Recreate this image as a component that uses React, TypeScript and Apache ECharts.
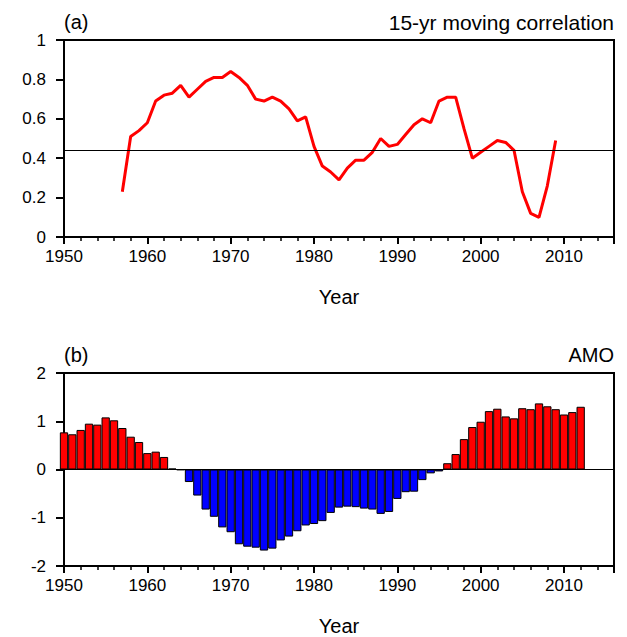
import { useEffect, useRef } from "react";
import * as echarts from "echarts";

const corrStartYear = 1957;
const corrValues = [
  0.23, 0.51, 0.54, 0.58, 0.69, 0.72, 0.73, 0.77, 0.71, 0.75,
  0.79, 0.81, 0.81, 0.84, 0.81, 0.77, 0.70, 0.69, 0.71, 0.69,
  0.65, 0.59, 0.61, 0.46, 0.36, 0.33, 0.29, 0.35, 0.39, 0.39,
  0.43, 0.50, 0.46, 0.47, 0.52, 0.57, 0.60, 0.58, 0.69, 0.71,
  0.71, 0.55, 0.40, 0.43, 0.46, 0.49, 0.48, 0.44, 0.23, 0.12,
  0.10, 0.26, 0.49,
];
const corrThreshold = 0.44;

const amoStartYear = 1950;
const amoValues = [
  0.77, 0.73, 0.82, 0.95, 0.93, 1.08, 1.02, 0.86, 0.68, 0.57,
  0.34, 0.37, 0.26, 0.02, -0.01, -0.26, -0.54, -0.83, -0.98, -1.20,
  -1.30, -1.55, -1.60, -1.62, -1.68, -1.64, -1.47, -1.39, -1.28, -1.16,
  -1.13, -1.07, -0.90, -0.79, -0.77, -0.78, -0.81, -0.83, -0.92, -0.88,
  -0.61, -0.47, -0.46, -0.22, -0.08, -0.04, 0.13, 0.32, 0.63, 0.88,
  0.99, 1.21, 1.26, 1.10, 1.06, 1.27, 1.25, 1.37, 1.31, 1.25,
  1.14, 1.19, 1.30,
];

const FONT = "Liberation Sans";
const GRID_H = 197;

export default function App() {
  const ref = useRef<HTMLDivElement>(null);

  useEffect(() => {
    if (!ref.current) return;
    const chart = echarts.init(ref.current, null, { renderer: "svg" });

    const corrData = corrValues.map((v, i) => [corrStartYear + i, v]);
    const amoData = amoValues.map((v, i) => ({
      value: [amoStartYear + i, v],
      itemStyle: { color: v >= 0 ? "#ff0000" : "#0000ff" },
    }));

    const grids = [
      { left: 64, top: 40, width: 550, height: GRID_H },
      { left: 64, top: 373, width: 550, height: GRID_H },
    ];

    const xAxisCfg = (gridIndex: number) => ({
      type: "value",
      gridIndex,
      position: "bottom",
      min: 1950,
      max: 2016,
      interval: 10,
      name: "Year",
      nameLocation: "middle",
      nameGap: 50,
      nameTextStyle: { fontFamily: FONT, fontSize: 20, color: "#000" },
      axisLine: { show: true, onZero: false, lineStyle: { color: "#000", width: 2 } },
      axisTick: {
        show: true,
        inside: false,
        length: 7,
        lineStyle: { color: "#000", width: 2 },
      },
      minorTick: {
        show: true,
        splitNumber: 5,
        length: 4,
        lineStyle: { color: "#000", width: 1.5 },
      },
      axisLabel: {
        show: true,
        margin: 11,
        fontFamily: FONT,
        fontSize: 17,
        color: "#000",
        showMaxLabel: false,
        formatter: (v: number) => (v % 10 === 0 ? String(v) : ""),
      },
      splitLine: { show: false },
      minorSplitLine: { show: false },
    });

    const yAxisCfg = (gridIndex: number, min: number, max: number, interval: number) => ({
      type: "value",
      gridIndex,
      min,
      max,
      interval,
      axisLine: { show: true, onZero: false, lineStyle: { color: "#000", width: 2 } },
      axisTick: { show: true, inside: false, length: 8, lineStyle: { color: "#000", width: 2 } },
      axisLabel: {
        margin: 18,
        fontFamily: FONT,
        fontSize: 17,
        color: "#000",
        formatter: (v: number) => String(v),
      },
      splitLine: { show: false },
    });

    const titleStyle = { fontFamily: FONT, fontSize: 20, fontWeight: "normal", color: "#000" };

    chart.setOption({
      animation: false,
      backgroundColor: "#fff",
      title: [
        { text: "(a)", left: 64, top: 12, textStyle: titleStyle, padding: 0 },
        { text: "15-yr moving correlation", right: 13, top: 12, textStyle: { ...titleStyle, fontSize: 21 }, padding: 0 },
        { text: "(b)", left: 64, top: 345, textStyle: titleStyle, padding: 0 },
        { text: "AMO", right: 13, top: 345, textStyle: titleStyle, padding: 0 },
      ],
      grid: grids.map((g) => ({ ...g, show: true, borderColor: "#000", borderWidth: 2, backgroundColor: "transparent" })),
      xAxis: [xAxisCfg(0), xAxisCfg(1)],
      yAxis: [yAxisCfg(0, 0, 1, 0.2), yAxisCfg(1, -2, 2, 1)],
      series: [
        {
          type: "line",
          xAxisIndex: 0,
          yAxisIndex: 0,
          data: corrData,
          symbol: "none",
          lineStyle: { color: "#ff0000", width: 3 },
          markLine: {
            silent: true,
            symbol: ["none", "none"],
            label: { show: false },
            lineStyle: { color: "#000", width: 1, type: "solid" },
            data: [{ yAxis: corrThreshold }],
          },
        },
        {
          type: "bar",
          xAxisIndex: 1,
          yAxisIndex: 1,
          data: amoData,
          barWidth: 8.3,
          clip: true,
          itemStyle: { borderColor: "#000", borderWidth: 1 },
          markLine: {
            silent: true,
            symbol: ["none", "none"],
            label: { show: false },
            lineStyle: { color: "#000", width: 1, type: "solid" },
            data: [{ yAxis: 0 }],
          },
        },
      ],
    });

    return () => chart.dispose();
  }, []);

  return (
    <div
      ref={ref}
      style={{ position: "fixed", left: 0, top: 0, width: 627, height: 637, background: "#fff" }}
    />
  );
}
